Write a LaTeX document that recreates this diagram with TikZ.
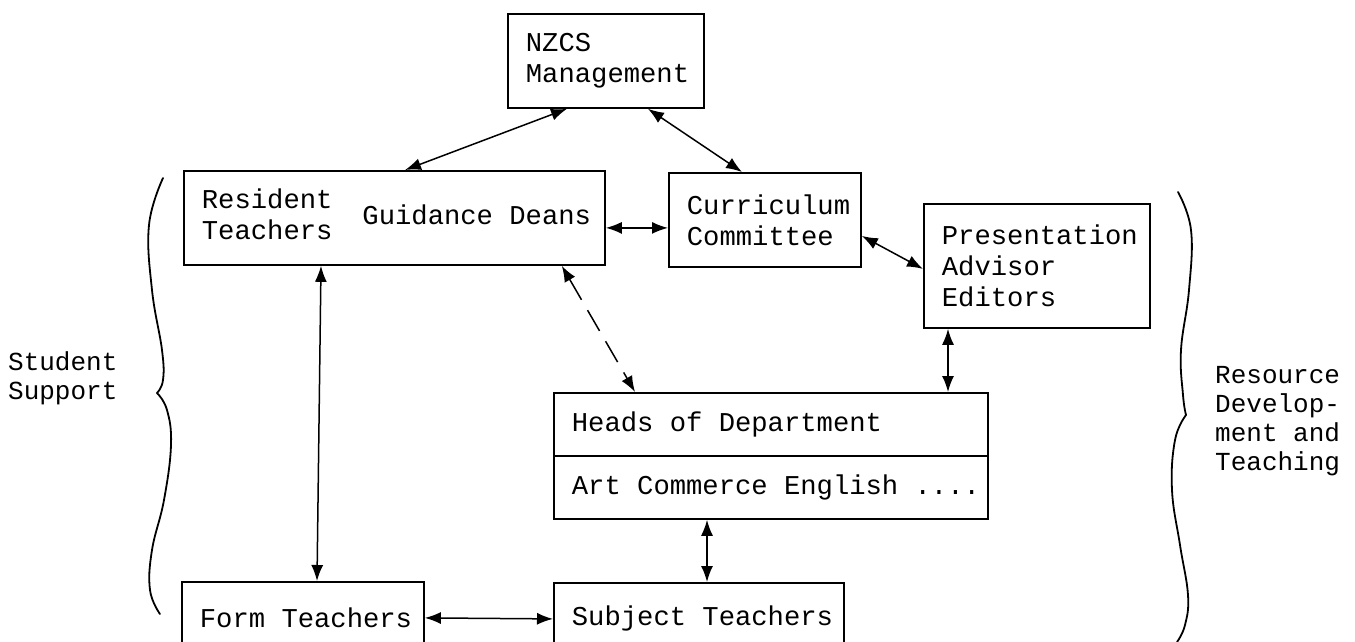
\documentclass[tikz,border=0pt]{standalone}
\usepackage{fontspec}
\setmonofont{Liberation Mono}
\usetikzlibrary{arrows.meta}
\tikzset{
  unitbox/.style={draw, line width=1.8pt, anchor=north west, align=left,
    inner xsep=0pt, inner ysep=0pt,
    font=\ttfamily\fontsize{27.2pt}{31pt}\selectfont,
    execute at begin node={\spaceskip=\fontdimen2\font\relax\leftskip=18pt\relax}},
  boxsize/.style 2 args={minimum width=#1, text width=#1, minimum height=#2},
  sidelabel/.style={anchor=west, align=left, inner sep=0pt,
    font=\ttfamily\fontsize{26pt}{29pt}\selectfont},
  link/.style={line width=1.5pt, {Latex[length=16pt,width=12pt]}-{Latex[length=16pt,width=12pt]}},
  dashlink/.style={link, dash pattern=on 24pt off 12pt},
  bracel/.style={line width=1.8pt, line cap=round}
}

\begin{document}
\begin{tikzpicture}[x=1pt,y=-1pt]
\useasboundingbox (0,0) rectangle (1355,641);
\clip (0,0) rectangle (1355,641);

\node[unitbox, boxsize={196pt}{94pt}] (nzcs) at (507,13) {NZCS\\Management};
\node[unitbox, boxsize={421pt}{94pt}] (guide) at (183,170)
  {\begin{tabular}[c]{@{}l@{}}Resident\\Teachers\end{tabular}\hspace{30pt}Guidance Deans};
\node[unitbox, boxsize={192pt}{94pt}] (curric) at (668,172) {Curriculum\\Committee};
\node[unitbox, boxsize={226pt}{124pt}] (pres) at (923,203) {Presentation\\Advisor\\Editors};
\node[unitbox, boxsize={434pt}{63pt}] (headtop) at (553,392) {Heads of Department};
\node[unitbox, boxsize={434pt}{63pt}] (headbot) at (553,455) {Art Commerce English ....};
\node[unitbox, boxsize={242pt}{72pt}] (form) at (181,581) {Form Teachers};
\node[unitbox, boxsize={290pt}{72pt}] (subject) at (553,582) {Subject Teachers};

\node[sidelabel] (support) at (8,378) {Student\\Support};
\node[sidelabel] (resource) at (1215,421) {Resource\\Develop-\\ment and\\Teaching};

% connectors
\draw[link] ([xshift=60pt]nzcs.south west) -- ([xshift=222pt]guide.north west);
\draw[link] ([xshift=141pt]nzcs.south west) -- ([xshift=74pt]curric.north west);
\draw[link] ([yshift=-10pt]guide.east) -- ([yshift=-8pt]curric.west);
\draw[link] ([yshift=-16pt]curric.east) -- ([yshift=-3pt]pres.west);
\draw[link] ([xshift=138pt]guide.south west) -- ([xshift=136pt]form.north west);
\draw[dashlink] ([xshift=-44pt]guide.south east) -- ([xshift=82pt]headtop.north west);
\draw[link] ([xshift=25pt]pres.south west) -- ([xshift=395pt]headtop.north west);
\draw[link] ([xshift=154pt]headbot.south west) -- ([xshift=154pt]subject.north west);
\draw[link] (form.east) -- (subject.west);

% braces
\draw[bracel] plot[smooth, tension=0.7] coordinates {(163,178) (149,225) (152,290) (162,350) (163,380) (157,393)};
\draw[bracel] plot[smooth, tension=0.7] coordinates {(157,393) (167,410) (171,445) (164,500) (152,550) (150,590) (160,614)};
\draw[bracel] plot[smooth, tension=0.7] coordinates {(1178,192) (1191,230) (1189,290) (1181,350) (1183,395) (1186,415)};
\draw[bracel] plot[smooth, tension=0.7] coordinates {(1186,415) (1175,440) (1172,490) (1180,545) (1188,595) (1185,625) (1177,642)};
\end{tikzpicture}
\end{document}
